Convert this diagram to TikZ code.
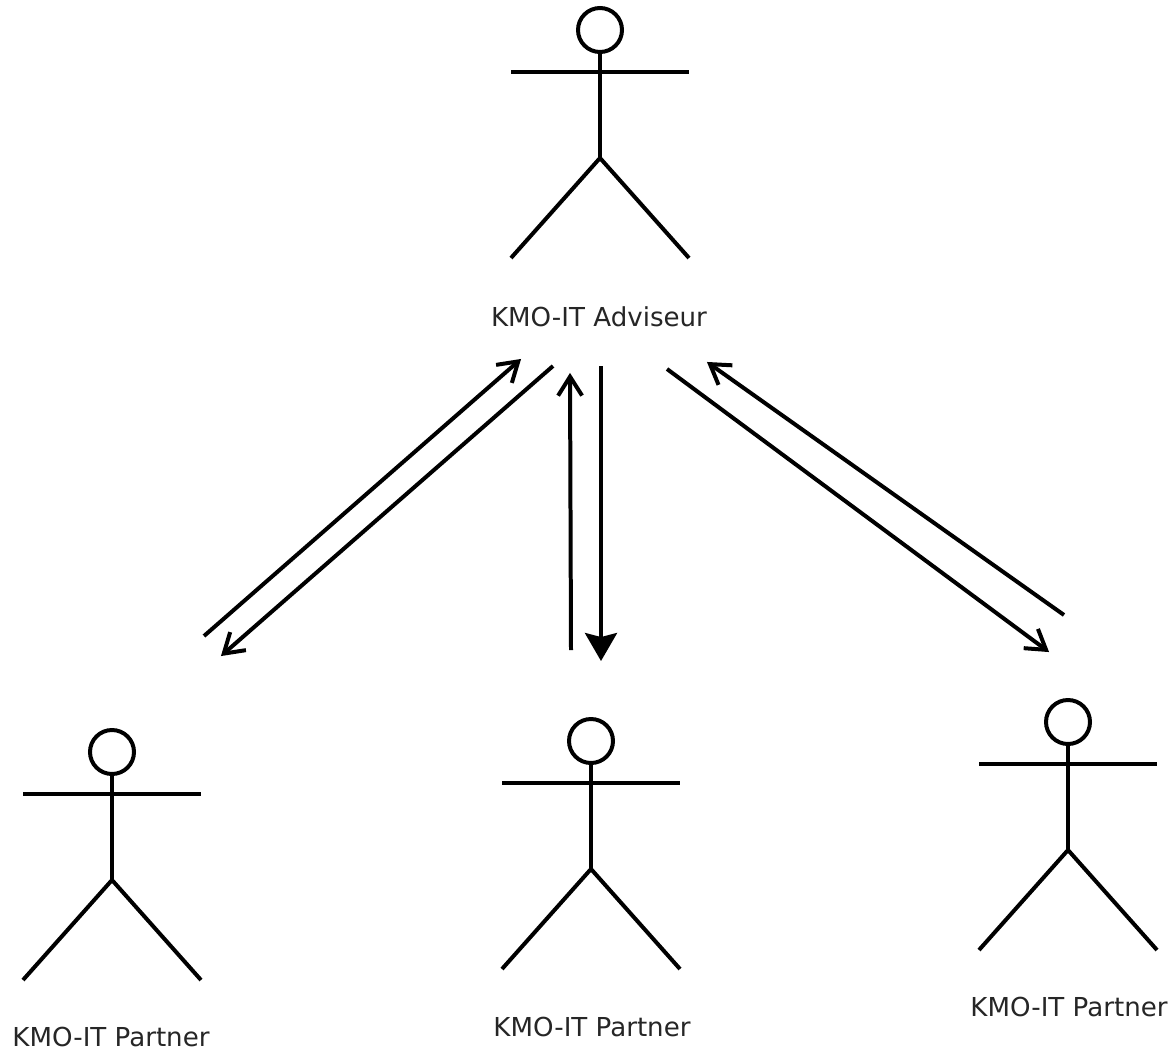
\documentclass[tikz,border=0pt]{standalone}
\usepackage{fontspec}
\setmainfont{DejaVu Sans}
\usetikzlibrary{arrows.meta}
\pgfdeclarearrow{
  name=OpenV,
  setup code={
    \pgfarrowssettipend{0pt}
    \pgfarrowssetlineend{-2.75pt}
    \pgfarrowssetbackend{-17pt}
    \pgfarrowshullpoint{0pt}{0pt}
    \pgfarrowshullpoint{-17pt}{9pt}
    \pgfarrowshullpoint{-17pt}{-9pt}
    \pgfarrowssavethe\pgfarrowlinewidth
  },
  drawing code={
    \pgfsetdash{}{0pt}
    \pgfsetmiterjoin
    \pgfsetbuttcap
    \pgfpathmoveto{\pgfqpoint{-17pt}{9pt}}
    \pgfpathlineto{\pgfqpoint{-2.75pt}{0pt}}
    \pgfpathlineto{\pgfqpoint{-17pt}{-9pt}}
    \pgfusepathqstroke
  },
  defaults={}
}
\tikzset{
  x=0.0264cm,y=-0.0264cm,
  limb/.style={line width=3pt,line cap=butt,line join=round,black},
  headc/.style={circle,draw=black,line width=3pt,minimum size=44*0.0264cm,inner sep=0pt,fill=white},
  lbl/.style={font=\fontsize{19.6pt}{23pt}\selectfont,text=black!85,inner sep=0pt},
  openarrow/.style={line width=3pt,black,-{OpenV}},
  solidarrow/.style={line width=3pt,black,-{Stealth[inset=3pt,length=21pt,width=24pt]}}
}
\newcommand{\actor}[6]{%
  \node[headc] (#1h) at (#2,#3) {};
  \coordinate (#1hip) at (#2,#3+128);
  \coordinate (#1al) at (#2-89,#3+42);
  \coordinate (#1ar) at (#2+89,#3+42);
  \coordinate (#1fl) at (#2-89,#3+228);
  \coordinate (#1fr) at (#2+89,#3+228);
  \draw[limb] (#1h.south) -- (#1hip);
  \draw[limb] (#1al) -- (#1ar);
  \draw[limb] (#1fl) -- (#1hip) -- (#1fr);
  \node[lbl] (#1t) at (#4,#5) {#6};
}
\begin{document}
\begin{tikzpicture}
\useasboundingbox (0,0) rectangle (1172,1052);
\fill[white] (0,0) rectangle (1172,1052);
\actor{adv}{600}{30}{599}{317}{KMO-IT Adviseur}
\actor{pa}{112}{752}{111}{1037}{KMO-IT Partner}
\actor{pb}{591}{741}{592}{1027}{KMO-IT Partner}
\actor{pc}{1068}{722}{1069}{1007}{KMO-IT Partner}
\coordinate (a1) at (204,636); \coordinate (a2) at (521,359);
\coordinate (b1) at (553,366); \coordinate (b2) at (221,656);
\coordinate (c1) at (571,650); \coordinate (c2) at (570,373);
\coordinate (d1) at (601,366); \coordinate (d2) at (601,661);
\coordinate (e1) at (667,369); \coordinate (e2) at (1049,652);
\coordinate (f1) at (1064,615); \coordinate (f2) at (707,362);
\draw[openarrow] (a1) -- (a2);
\draw[openarrow] (b1) -- (b2);
\draw[openarrow] (c1) -- (c2);
\draw[solidarrow] (d1) -- (d2);
\draw[openarrow] (e1) -- (e2);
\draw[openarrow] (f1) -- (f2);
\end{tikzpicture}
\end{document}
